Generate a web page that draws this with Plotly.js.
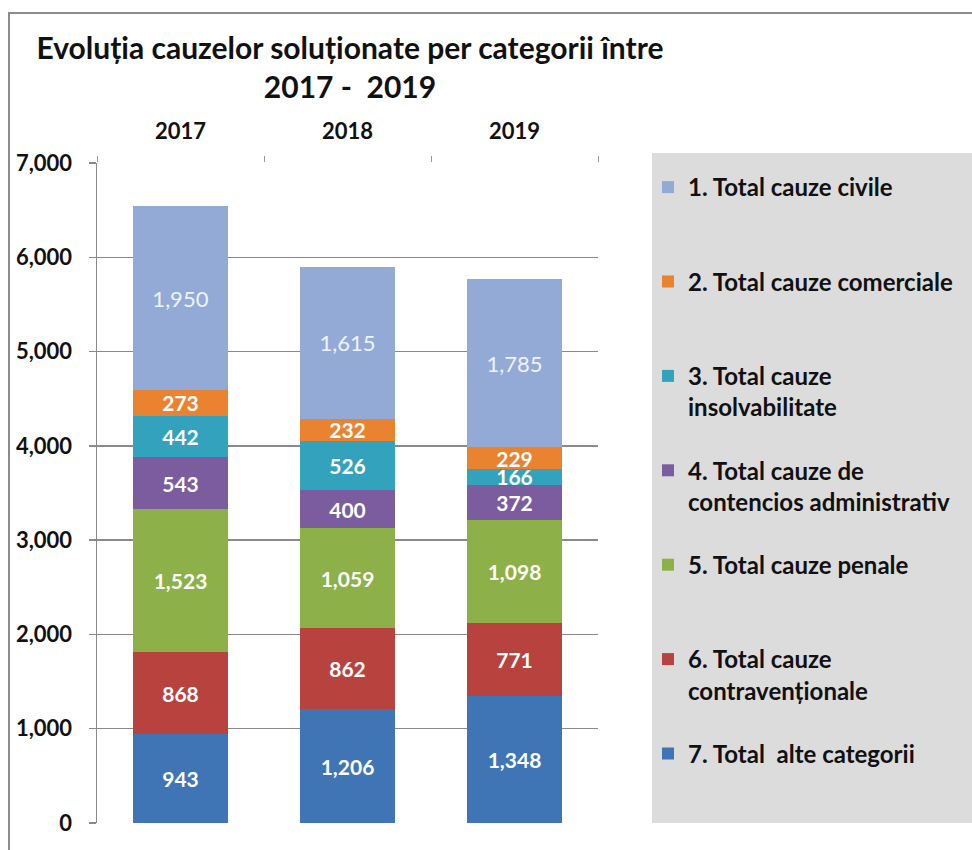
<!DOCTYPE html>
<html>
<head>
<meta charset="utf-8">
<script src="https://cdn.plot.ly/plotly-3.0.1.min.js"></script>
<style>html,body{margin:0;padding:0;background:#fff;}#chart{width:972px;height:850px;}</style>
</head>
<body>
<div id="chart"></div>
<script>
const years = ['2017', '2018', '2019'];
const civile = [1950, 1615, 1785];
const comerciale = [273, 232, 229];
const insolvabilitate = [442, 526, 166];
const contencios = [543, 400, 372];
const penale = [1523, 1059, 1098];
const contraventionale = [868, 862, 771];
const alte = [943, 1206, 1348];

const seriesNames = [
  '7. Total  alte categorii<br>&nbsp;',
  '6. Total cauze<br>contravenționale',
  '5. Total cauze penale<br>&nbsp;',
  '4. Total cauze de<br>contencios administrativ',
  '3. Total cauze<br>insolvabilitate',
  '2. Total cauze comerciale<br>&nbsp;',
  '1. Total cauze civile<br>&nbsp;'
];
const seriesValues = [alte, contraventionale, penale, contencios, insolvabilitate, comerciale, civile];
const seriesColors = ['#3f75b5', '#b8423e', '#8db148', '#7a5c9f', '#33a2bc', '#e9832f', '#93aad6'];

const FONT = 'Lato, "Open Sans", sans-serif';

const traces = seriesValues.map((vals, i) => {
  const isCivile = i === 6;
  return {
    type: 'bar',
    x: years,
    y: vals,
    name: seriesNames[i],
    legendgroup: 'g' + i,
    legendrank: 7 - i,
    marker: {color: seriesColors[i], line: {width: 0}},
    texttemplate: '%{y:,}',
    textposition: 'inside',
    insidetextanchor: 'middle',
    textangle: 0,
    constraintext: 'none',
    insidetextfont: isCivile
      ? {family: FONT, size: 22, color: '#eef2fa', weight: 'normal'}
      : {family: FONT, size: 21, color: '#ffffff', weight: 'bold'},
    hoverinfo: 'x+y+name'
  };
});

const L = 97, R = 598, T = 163, B = 823;
const pw = R - L, ph = B - T;
const px = v => (v - L) / pw;
const py = v => (B - v) / ph;

const layout = {
  width: 972,
  height: 850,
  margin: {l: L, r: 972 - R, t: T, b: 850 - B, pad: 0},
  paper_bgcolor: '#ffffff',
  plot_bgcolor: 'rgba(0,0,0,0)',
  font: {family: FONT, color: '#111111'},
  barmode: 'stack',
  bargap: 0.43,
  title: {
    text: 'Evoluția cauzelor soluționate per categorii între<br>2017 -  2019',
    font: {family: FONT, size: 30, weight: 'bold', color: '#111111'},
    x: px(350), xref: 'paper', xanchor: 'center',
    y: 1 - 59 / 850, yref: 'container', yanchor: 'middle'
  },
  xaxis: {
    type: 'category',
    side: 'top',
    showgrid: false,
    showline: false,
    zeroline: false,
    ticks: 'outside',
    tickson: 'boundaries',
    ticklen: 6,
    tickcolor: '#999999',
    tickwidth: 1,
    tickfont: {family: FONT, size: 22, weight: 'bold', color: '#111111'},
    ticklabelstandoff: 19
  },
  yaxis: {
    range: [0, 7000],
    tickvals: [0, 1000, 2000, 3000, 4000, 5000, 6000, 7000],
    tickformat: ',d',
    showgrid: true,
    gridcolor: '#8a8a8a',
    gridwidth: 1.5,
    zeroline: false,
    showline: true,
    linecolor: '#8a8a8a',
    linewidth: 1.5,
    ticks: 'outside',
    ticklen: 7,
    tickcolor: '#8a8a8a',
    tickwidth: 1.5,
    tickfont: {family: FONT, size: 22, weight: 'bold', color: '#111111'},
    ticklabelstandoff: 12
  },
  legend: {
    x: px(648), xanchor: 'left',
    y: py(165), yanchor: 'top',
    bgcolor: 'rgba(0,0,0,0)',
    borderwidth: 0,
    traceorder: 'grouped',
    tracegroupgap: 29,
    valign: 'top',
    itemwidth: 30,
    font: {family: FONT, size: 24, weight: 'bold', color: '#111111'}
  },
  shapes: [
    {type: 'rect', xref: 'paper', yref: 'paper', x0: px(652), x1: px(985), y0: py(823), y1: py(153),
     fillcolor: '#dcdcdc', line: {width: 0}, layer: 'below'},
    {type: 'rect', xref: 'paper', yref: 'paper', x0: px(9), x1: px(990), y0: py(870), y1: py(13),
     fillcolor: 'rgba(0,0,0,0)', line: {color: '#8c8c8c', width: 2}, layer: 'below'}
  ]
};

Plotly.newPlot('chart', traces, layout, {displayModeBar: false, staticPlot: true});
</script>
</body>
</html>
